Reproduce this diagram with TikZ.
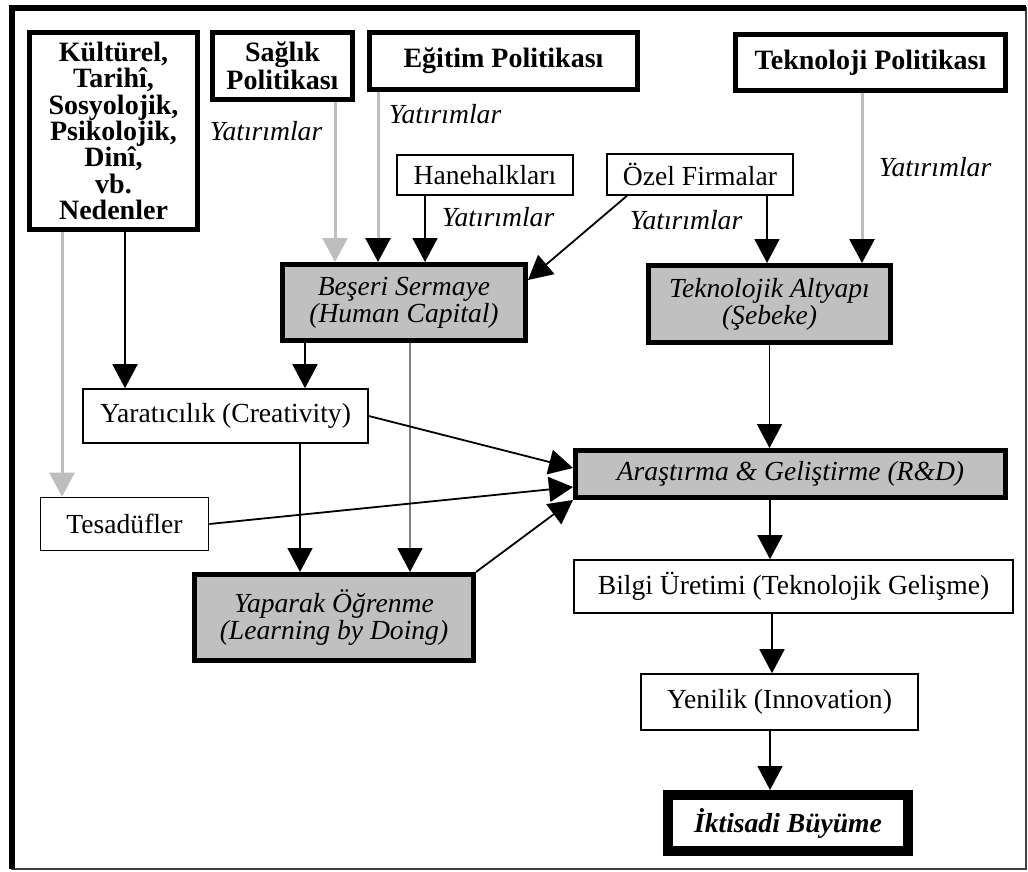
\documentclass[tikz,border=0pt]{standalone}
\usepackage{fontspec}
\setmainfont{Liberation Serif}
\usepackage{xcolor}
\usepackage{tikz}
\usetikzlibrary{arrows.meta,positioning}
\definecolor{boxgray}{HTML}{C0C0C0}
\definecolor{lightline}{HTML}{BEBEBE}
\definecolor{midline}{HTML}{808080}

\tikzset{
  policy/.style={draw, line width=2.5pt, align=center, inner sep=2pt,
    font=\fontsize{14}{12.3}\selectfont\bfseries},
  plainbox/.style={draw, line width=0.8pt, align=center, inner sep=2pt,
    font=\fontsize{13.8}{12}\selectfont},
  corebox/.style={draw, fill=boxgray, line width=2.5pt, align=center, inner sep=2pt,
    font=\fontsize{13.8}{12}\selectfont\itshape},
  goalbox/.style={draw, line width=5pt, inner sep=2pt,
    font=\fontsize{13.8}{12}\selectfont\bfseries\itshape},
  invest/.style={font=\fontsize{13.8}{14}\selectfont\itshape},
  arr/.style={-{Triangle[width=12.5pt,length=12pt]}, line width=0.9pt},
  grayarr/.style={-{Triangle[width=12.5pt,length=12pt]}, draw=lightline, line width=1.5pt},
  mixarr/.style={-{Triangle[width=12.5pt,length=12pt,color=black]}, draw=lightline, line width=1.5pt},
  midarr/.style={-{Triangle[width=12.5pt,length=12pt,color=black]}, draw=midline, line width=0.9pt},
}

\begin{document}
\begin{tikzpicture}[x=0.5pt,y=-0.5pt]
  \useasboundingbox (0,0) rectangle (1028,872);
  % outer frame
  \draw[line width=1pt, black!75] (11.5,8.5) rectangle (1026,869);
  \draw[line width=3pt] (11.5,869) -- (11.5,8.5) -- (1026,8.5);

  % policies and sources
  \node[policy, font=\fontsize{14}{13.2}\selectfont\bfseries, minimum width=84pt, minimum height=98.5pt] (kult) at (113.5,131)
    {Kültürel,\\Tarihî,\\Sosyolojik,\\Psikolojik,\\Dinî,\\vb.\\Nedenler};
  \node[policy, minimum width=70pt, minimum height=33.5pt] (saglik) at (282.5,66) {Sağlık\\Politikası};
  \node[policy, minimum width=134pt, minimum height=28.5pt] (egitim) at (503.5,61) {Eğitim Politikası};
  \node[policy, minimum width=135pt, minimum height=28pt] (tekpol) at (870.5,62.5) {Teknoloji Politikası};
  \node[plainbox, minimum width=88pt, minimum height=20pt] (hane) at (485,175) {Hanehalkları};
  \node[plainbox, minimum width=93pt, minimum height=20.5pt] (ozel) at (700,174.5) {Özel Firmalar};

  % core boxes
  \node[corebox, minimum width=121.5pt, minimum height=38pt] (beseri) at (404,302.5) {Beşeri Sermaye\\(Human Capital)};
  \node[corebox, minimum width=121pt, minimum height=38.5pt] (tekalt) at (769.5,304) {Teknolojik Altyapı\\(Şebeke)};
  \node[plainbox, minimum width=142.5pt, minimum height=27pt] (yarat) at (225.5,416) {Yaratıcılık (Creativity)};
  \node[corebox, minimum width=215pt, minimum height=23.5pt] (arge) at (790.5,474) {Araştırma \& Geliştirme (R\&D)};
  \node[plainbox, minimum width=84pt, minimum height=26.5pt] (tesad) at (124.5,524) {Tesadüfler};
  \node[corebox, minimum width=139.5pt, minimum height=43pt] (yapar) at (334,617.5) {Yaparak Öğrenme\\(Learning by Doing)};
  \node[plainbox, minimum width=219.5pt, minimum height=26.5pt] (bilgi) at (793.5,586.5) {Bilgi Üretimi (Teknolojik Gelişme)};
  \node[plainbox, minimum width=138.5pt, minimum height=28pt] (yenilik) at (779.5,702) {Yenilik (Innovation)};
  \node[goalbox, minimum width=120pt, minimum height=28pt] (buyume) at (788,823) {İktisadi Büyüme};

  % investment labels
  \node[invest] (inv1) at (266,131) {Yatırımlar};
  \node[invest] (inv2) at (445,114) {Yatırımlar};
  \node[invest] (inv3) at (498,217) {Yatırımlar};
  \node[invest] (inv4) at (686,220) {Yatırımlar};
  \node[invest] (inv5) at (935,167) {Yatırımlar};

  % connectors
  \coordinate (kg) at ([xshift=-25.75pt]kult.south);
  \draw[grayarr] (kg) -- (kg |- tesad.north);
  \coordinate (kb) at ([xshift=5.75pt]kult.south);
  \draw[arr] (kb) -- (kb |- yarat.north);
  \coordinate (sb) at ([xshift=26.25pt]saglik.south);
  \draw[grayarr] (sb) -- (sb |- beseri.north);
  \coordinate (eb) at ([xshift=-62.75pt]egitim.south);
  \draw[mixarr] (eb) -- (eb |- beseri.north);
  \coordinate (hb) at ([xshift=-30pt]hane.south);
  \draw[arr] (hb) -- (hb |- beseri.north);
  \coordinate (ob) at ([xshift=-36.5pt]ozel.south);
  \draw[arr] (ob) -- ([yshift=-9pt]beseri.north east);
  \coordinate (ot) at ([xshift=33.5pt]ozel.south);
  \draw[arr] (ot) -- (ot |- tekalt.north);
  \coordinate (tt) at ([xshift=-4.25pt]tekpol.south);
  \draw[mixarr] (tt) -- (tt |- tekalt.north);
  \coordinate (by) at ([xshift=-49.5pt]beseri.south);
  \draw[arr] (by) -- (by |- yarat.north);
  \coordinate (bl) at ([xshift=3pt]beseri.south);
  \draw[midarr] (bl) -- (bl |- yapar.north);
  \coordinate (yy) at ([xshift=37.25pt]yarat.south);
  \draw[arr] (yy) -- (yy |- yapar.north);
  \draw[arr] (tekalt.south) -- (tekalt.south |- arge.north);
  \draw[arr] (yarat.east) -- ([yshift=3pt]arge.west);
  \draw[arr] (tesad.east) -- ([yshift=-6.5pt]arge.west);
  \draw[arr] (yapar.north east) -- (arge.south west);
  \coordinate (ab) at ([xshift=-10.25pt]arge.south);
  \draw[arr] (ab) -- (ab |- bilgi.north);
  \coordinate (bb) at ([xshift=-10.75pt]bilgi.south);
  \draw[arr] (bb) -- (bb |- yenilik.north);
  \coordinate (yb) at ([xshift=-4.75pt]yenilik.south);
  \draw[arr] (yb) -- (yb |- buyume.north);
\end{tikzpicture}
\end{document}
